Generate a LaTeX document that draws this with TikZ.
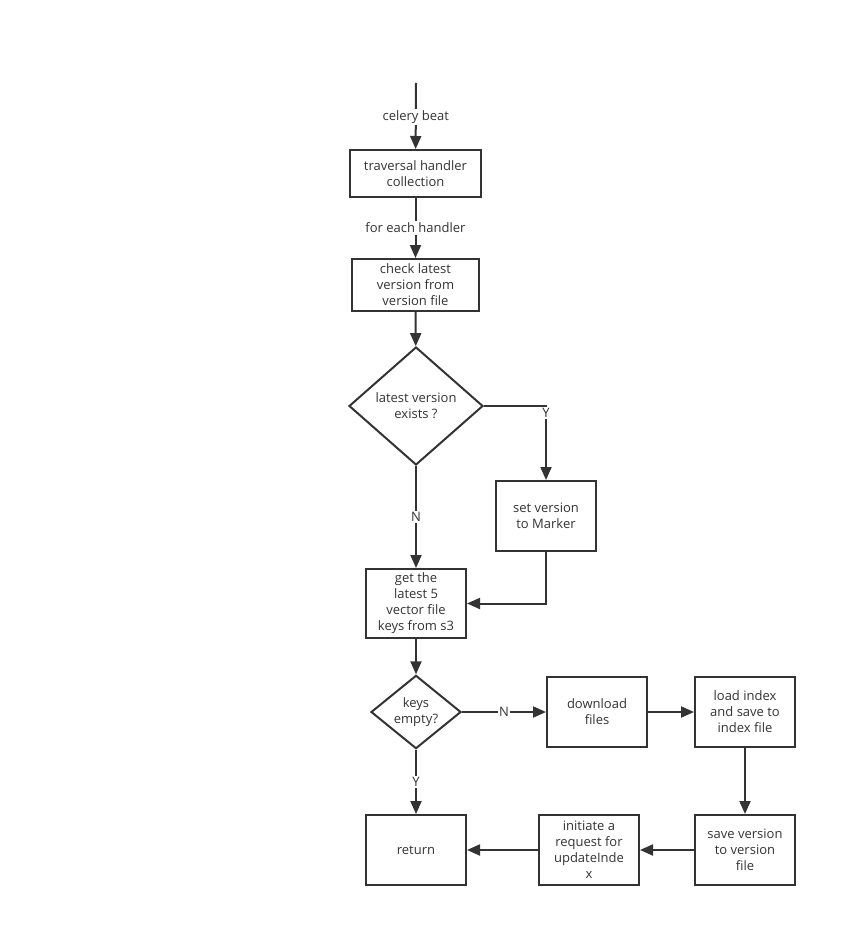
\documentclass[tikz,border=0pt]{standalone}
\usepackage{fontspec}
\setmainfont{Open Sans}
\usetikzlibrary{shapes.geometric,arrows.meta}
\definecolor{ink}{HTML}{333333}
\tikzset{
  box/.style={draw=ink, line width=2pt, inner sep=0pt, align=center, text=ink, font=\fontsize{13}{16}\selectfont},
  dia/.style={draw=ink, line width=2pt, shape=diamond, inner sep=0pt, align=center, text=ink, font=\fontsize{13}{16}\selectfont},
  conn/.style={draw=ink, line width=2pt, -{Triangle[length=13pt,width=11pt]}},
  lbl/.style={fill=white, text=ink, inner sep=1.5pt, font=\fontsize{13}{16}\selectfont},
}
\begin{document}
\begin{tikzpicture}[x=1pt,y=-1pt]
\useasboundingbox (0,0) rectangle (856,947);
\coordinate (start) at (416,83);
\node[box, minimum width=131pt, minimum height=47pt] (b1) at (415.5,173.5) {traversal handler\\collection};
\node[box, minimum width=127pt, minimum height=52pt] (b2) at (415.5,285) {check latest\\version from\\version file};
\node[dia, minimum width=134pt, minimum height=118pt] (d1) at (416,406) {latest version\\exists ?};
\node[box, minimum width=100pt, minimum height=70pt] (b3) at (546,516) {set version\\to Marker};
\node[box, minimum width=100pt, minimum height=69pt] (b4) at (416,603.5) {get the\\latest 5\\vector file\\keys from s3};
\node[dia, minimum width=90pt, minimum height=70pt] (d2) at (416,712) {keys\\empty?};
\node[box, minimum width=100pt, minimum height=70pt] (b5) at (597,712) {download\\files};
\node[box, minimum width=100pt, minimum height=70pt] (b6) at (745,712) {load index\\and save to\\index file};
\node[box, minimum width=100pt, minimum height=70pt] (b7) at (745,850) {save version\\to version\\file};
\node[box, minimum width=100pt, minimum height=70pt] (b8) at (589,850) {initiate a\\request for\\updateInde\\x};
\node[box, minimum width=100pt, minimum height=70pt] (b9) at (416,850) {return};
\coordinate (yc) at (546,406);
\coordinate (mc) at (546,603.5);

\draw[conn] (start) -- node[lbl, pos=0.52] {celery beat} (b1);
\draw[conn] (b1) -- node[lbl, pos=0.5] {for each handler} (b2);
\draw[conn] (b2) -- (d1);
\draw[conn] (d1.east) -- (yc) -- node[lbl, pos=0.09] {Y} (b3.north);
\draw[conn] (d1.south) -- node[lbl, pos=0.5] {N} (b4.north);
\draw[conn] (b3.south) -- (mc) -- (b4.east);
\draw[conn] (b4) -- (d2);
\draw[conn] (d2.east) -- node[lbl, pos=0.5] {N} (b5.west);
\draw[conn] (b5) -- (b6);
\draw[conn] (b6) -- (b7);
\draw[conn] (b7) -- (b8);
\draw[conn] (b8) -- (b9);
\draw[conn] (d2.south) -- node[lbl, pos=0.5] {Y} (b9.north);
\end{tikzpicture}
\end{document}
